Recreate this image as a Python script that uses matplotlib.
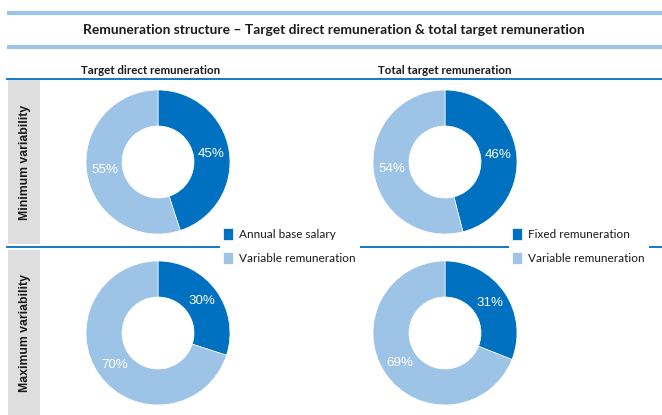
import matplotlib.pyplot as plt
from matplotlib.patches import Rectangle

# chart data
row_labels = ["Minimum variability", "Maximum variability"]
col_titles = ["Target direct remuneration", "Total target remuneration"]
legend_left = ["Annual base salary", "Variable remuneration"]
legend_right = ["Fixed remuneration", "Variable remuneration"]
# [fixed part, variable part] per panel, row by row
tdr_min = [45, 55]
ttr_min = [46, 54]
tdr_max = [30, 70]
ttr_max = [31, 69]

DARK = "#0070C0"
LIGHT = "#9DC3E6"
GREY = "#DEDEDE"
W, H = 662, 415

fig = plt.figure(figsize=(W / 100, H / 100), dpi=100)
bg = fig.add_axes([0, 0, 1, 1])
bg.set_xlim(0, W)
bg.set_ylim(H, 0)
bg.axis("off")

# header bands
bg.plot([7, W], [13, 13], color=LIGHT, lw=3, solid_capstyle="butt")
bg.plot([7, W], [47, 47], color=LIGHT, lw=3, solid_capstyle="butt")
bg.text(334, 30, "Remuneration structure \u2013 Target direct remuneration & total target remuneration",
        ha="center", va="center", fontsize=9.9, fontweight="bold", family="Lato", color="#1a1a1a")
bg.text(151, 70, col_titles[0], ha="center", va="center", fontsize=8.3, fontweight="bold",
        family="Lato", color="#1a1a1a")
bg.text(445, 70, col_titles[1], ha="center", va="center", fontsize=8.3, fontweight="bold",
        family="Lato", color="#1a1a1a")
bg.plot([7, W], [79, 79], color=DARK, lw=1.3)
bg.plot([7, W], [247, 247], color=DARK, lw=1.3)

# row label boxes
for y0, y1, lab in [(80, 244, row_labels[0]), (250, 415, row_labels[1])]:
    bg.add_patch(Rectangle((8, y0), 32, y1 - y0, color=GREY, lw=0))
    bg.text(25, (y0 + y1) / 2, lab, rotation=90, ha="center", va="center", fontsize=8.8,
            fontweight="bold", family="Liberation Sans", color="#1a1a1a")

panels = [(158, 162, tdr_min), (445, 162, ttr_min), (158, 333, tdr_max), (445, 333, ttr_max)]
R = 72
wedge_sets = []
for cx, cy, vals in panels:
    ax = fig.add_axes([(cx - R) / W, 1 - (cy + R) / H, 2 * R / W, 2 * R / H])
    wedges, _, autot = ax.pie(vals, colors=[DARK, LIGHT], startangle=90, counterclock=False,
                              radius=1, autopct="%d%%", pctdistance=0.75,
                              wedgeprops=dict(width=0.5, edgecolor="white", linewidth=0.5),
                              textprops=dict(color="white", fontsize=9.6, family="Liberation Sans"))
    ax.set_xlim(-1, 1)
    ax.set_ylim(-1, 1)
    wedge_sets.append(wedges)

# legends sit on the middle divider line
for x, labels, wedges in [(214, legend_left, wedge_sets[0]), (503, legend_right, wedge_sets[1])]:
    leg = bg.legend(wedges, labels, loc="center left",
                    bbox_to_anchor=(x / W, 1 - 246 / H), bbox_transform=fig.transFigure,
                    frameon=True, handlelength=0.85, handleheight=1.25,
                    handletextpad=0.5, labelspacing=0.95, borderpad=0.3,
                    prop=dict(family="Lato", size=8.5))
    leg.get_frame().set_facecolor("white")
    leg.get_frame().set_edgecolor("none")
    leg.get_frame().set_alpha(1)
    leg.set_zorder(5)
    for t in leg.get_texts():
        t.set_color("#1a1a1a")
    bg.add_artist(leg)

fig.savefig("out.png", dpi=100)
